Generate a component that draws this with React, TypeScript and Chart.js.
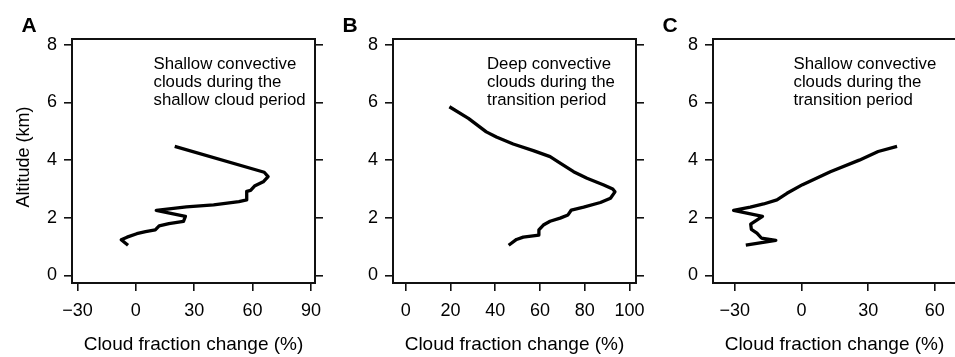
import React, { useEffect, useRef } from 'react';
import { Chart, registerables } from 'chart.js';

Chart.register(...registerables);

// ---------- data ----------
const altitudeTicks = [0, 2, 4, 6, 8];
const xTicksA = [-30, 0, 30, 60, 90];
const xTicksB = [0, 20, 40, 60, 80, 100];
const xTicksC = [-30, 0, 30, 60];

// Panel A: shallow convective clouds, shallow cloud period
const changeA = [-4, -7.5, -4.5, 0.5, 5, 10, 12, 17, 24.5, 25.5, 10.5, 26, 40, 53, 57, 57, 59, 61, 65.5, 68, 66, 20];
const altitudeA = [1.05, 1.24, 1.33, 1.45, 1.52, 1.58, 1.72, 1.8, 1.88, 2.05, 2.26, 2.38, 2.45, 2.56, 2.62, 2.92, 2.95, 3.1, 3.25, 3.43, 3.58, 4.48];

// Panel B: deep convective clouds, transition period
const changeB = [46, 49.5, 52.5, 59.5, 59.5, 61.5, 64.5, 69, 72.5, 74, 79.5, 87, 91.5, 93.5, 92.5, 88.5, 81, 75, 69, 64.5, 57, 48, 40.5, 36, 28, 19.5];
const altitudeB = [1.05, 1.25, 1.33, 1.4, 1.58, 1.75, 1.88, 1.99, 2.1, 2.27, 2.37, 2.53, 2.68, 2.9, 3.0, 3.14, 3.37, 3.6, 3.9, 4.12, 4.33, 4.56, 4.8, 4.98, 5.45, 5.85];

// Panel C: shallow convective clouds, transition period
const changeC = [-25, -11.5, -18, -20, -22.5, -22.8, -17.5, -30.5, -23, -17, -11, -6.5, 0.5, 13, 26, 34.5, 43];
const altitudeC = [1.05, 1.22, 1.3, 1.47, 1.6, 1.78, 2.05, 2.26, 2.37, 2.48, 2.62, 2.85, 3.15, 3.6, 4.0, 4.3, 4.48];

const labelA = ['Shallow convective', 'clouds during the', 'shallow cloud period'];
const labelB = ['Deep convective', 'clouds during the', 'transition period'];
const labelC = ['Shallow convective', 'clouds during the', 'transition period'];

const xTitle = 'Cloud fraction change (%)';
const yTitle = 'Altitude (km)';

// ---------- layout ----------
const CW = 970;
const CH = 357;
const TOP = 39;
const BOTTOM = 283;
const LEFT_W = 60;
const RIGHT_W = 12;
const BOTTOM_H = 60;
const FONT = '"Liberation Sans", Arial, Helvetica, sans-serif';

type Panel = {
  letter: string;
  left: number;
  right: number;
  xMin: number;
  xMax: number;
  xTicks: number[];
  xs: number[];
  ys: number[];
  note: string[];
  noteX: number;
  showYTitle: boolean;
};

const panels: Panel[] = [
  { letter: 'A', left: 72, right: 315, xMin: -32.8, xMax: 92.1, xTicks: xTicksA, xs: changeA, ys: altitudeA, note: labelA, noteX: 153.5, showYTitle: true },
  { letter: 'B', left: 393, right: 636, xMin: -5.7, xMax: 102.9, xTicks: xTicksB, xs: changeB, ys: altitudeB, note: labelB, noteX: 487, showYTitle: false },
  { letter: 'C', left: 713, right: 956, xMin: -39.75, xMax: 69.5, xTicks: xTicksC, xs: changeC, ys: altitudeC, note: labelC, noteX: 793.5, showYTitle: false },
];

const fmt = (v: number) => (v < 0 ? '\u2212' + Math.abs(v) : String(v));

function zeroPad(scale: any) {
  scale.paddingTop = 0;
  scale.paddingBottom = 0;
  scale.paddingLeft = 0;
  scale.paddingRight = 0;
}

function makeChart(canvas: HTMLCanvasElement, p: Panel) {
  const gridOpts = {
    drawOnChartArea: false,
    drawTicks: true,
    tickLength: 8,
    color: '#111',
    lineWidth: 1.6,
  };
  const tickFont = { family: FONT, size: 18 };

  const decor = {
    id: 'decor' + p.letter,
    afterDraw(chart: any) {
      const { ctx, chartArea } = chart;
      const { left, top, right, bottom } = chartArea;
      ctx.save();
      ctx.strokeStyle = '#111';
      ctx.lineWidth = 2;
      ctx.strokeRect(left, top, right - left, bottom - top);

      ctx.fillStyle = '#000';
      ctx.textBaseline = 'alphabetic';
      // panel letter
      ctx.font = `bold 21px ${FONT}`;
      ctx.textAlign = 'left';
      ctx.fillText(p.letter, left - 50.5, 32);

      // annotation
      ctx.font = `16.8px ${FONT}`;
      p.note.forEach((line, i) => {
        ctx.fillText(line, p.noteX, 68.5 + i * 18.4);
      });

      // x title
      ctx.font = `19px ${FONT}`;
      ctx.textAlign = 'center';
      ctx.fillText(xTitle, (left + right) / 2, 350);

      // y title
      if (p.showYTitle) {
        ctx.save();
        ctx.translate(28.5, 157);
        ctx.rotate(-Math.PI / 2);
        ctx.textAlign = 'center';
        ctx.font = `18px ${FONT}`;
        ctx.fillText(yTitle, 0, 0);
        ctx.restore();
      }
      ctx.restore();
    },
  };

  return new Chart(canvas, {
    type: 'scatter',
    data: {
      datasets: [
        {
          data: p.xs.map((x, i) => ({ x, y: p.ys[i] })),
          showLine: true,
          borderColor: '#000',
          borderWidth: 3.3,
          borderJoinStyle: 'round',
          borderCapStyle: 'butt',
          pointRadius: 0,
          pointHoverRadius: 0,
          tension: 0,
          fill: false,
        },
      ],
    },
    options: {
      responsive: false,
      animation: false,
      devicePixelRatio: 1,
      events: [],
      layout: {
        padding: {
          left: p.left - LEFT_W,
          right: CW - p.right - RIGHT_W,
          top: TOP,
          bottom: CH - BOTTOM - BOTTOM_H,
        },
      },
      scales: {
        x: {
          type: 'linear',
          position: 'bottom',
          min: p.xMin,
          max: p.xMax,
          afterBuildTicks: (s: any) => {
            s.ticks = p.xTicks.map((v) => ({ value: v }));
          },
          afterFit: (s: any) => {
            s.height = BOTTOM_H;
            zeroPad(s);
          },
          grid: gridOpts,
          border: { display: false },
          ticks: {
            autoSkip: false,
            maxRotation: 0,
            minRotation: 0,
            padding: 9,
            color: '#000',
            font: tickFont,
            callback: (v: any) => fmt(Number(v)),
          },
        },
        y: {
          type: 'linear',
          position: 'left',
          min: -0.26,
          max: 8.2,
          afterBuildTicks: (s: any) => {
            s.ticks = altitudeTicks.map((v) => ({ value: v }));
          },
          afterFit: (s: any) => {
            s.width = LEFT_W;
            zeroPad(s);
          },
          grid: gridOpts,
          border: { display: false },
          ticks: {
            autoSkip: false,
            padding: 7,
            color: '#000',
            font: tickFont,
            callback: (v: any) => fmt(Number(v)),
          },
        },
        y2: {
          type: 'linear',
          position: 'right',
          min: -0.26,
          max: 8.2,
          afterBuildTicks: (s: any) => {
            s.ticks = altitudeTicks.map((v) => ({ value: v }));
          },
          afterFit: (s: any) => {
            s.width = RIGHT_W;
            zeroPad(s);
          },
          grid: gridOpts,
          border: { display: false },
          ticks: {
            autoSkip: false,
            color: 'rgba(0,0,0,0)',
            font: tickFont,
            callback: () => '',
          },
        },
      },
      plugins: {
        legend: { display: false },
        tooltip: { enabled: false },
      },
    } as any,
    plugins: [decor],
  });
}

function PanelChart({ p }: { p: Panel }) {
  const ref = useRef<HTMLCanvasElement | null>(null);
  useEffect(() => {
    if (!ref.current) return;
    const chart = makeChart(ref.current, p);
    return () => chart.destroy();
  }, [p]);
  return (
    <canvas
      ref={ref}
      width={CW}
      height={CH}
      style={{ position: 'absolute', left: 0, top: 0, width: CW, height: CH }}
    />
  );
}

export default function App() {
  return (
    <div
      style={{
        position: 'fixed',
        left: 0,
        top: 0,
        width: 955,
        height: 357,
        overflow: 'hidden',
        background: '#fff',
      }}
    >
      {panels.map((p) => (
        <PanelChart key={p.letter} p={p} />
      ))}
    </div>
  );
}
